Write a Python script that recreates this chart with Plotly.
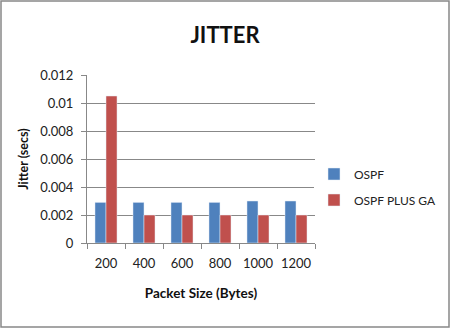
import plotly.graph_objects as go

categories = ["200", "400", "600", "800", "1000", "1200"]
ospf = [0.0029, 0.0029, 0.0029, 0.0029, 0.003, 0.003]
ospf_ga = [0.0105, 0.002, 0.002, 0.002, 0.002, 0.002]
y_ticks = [0, 0.002, 0.004, 0.006, 0.008, 0.01, 0.012]
y_tick_labels = ["0", "0.002", "0.004", "0.006", "0.008", "0.01", "0.012"]

FONT = "Lato, 'Open Sans', sans-serif"
L, R, T, B = 87, 135, 75, 85
W, H = 450, 328
pw, ph = W - L - R, H - T - B

fig = go.Figure()
fig.add_bar(x=categories, y=ospf, name="OSPF", marker_color="#4F81BD", legendgroup="a")
fig.add_bar(x=categories, y=ospf_ga, name="OSPF PLUS GA", marker_color="#C0504D", legendgroup="b")

fig.update_layout(
    width=W, height=H, autosize=False,
    margin=dict(l=L, r=R, t=T, b=B, autoexpand=False),
    paper_bgcolor="white", plot_bgcolor="white",
    barmode="group", bargap=0.42, bargroupgap=0,
    font=dict(family=FONT, color="#222", size=12),
    title=dict(text="<b>JITTER</b>", x=0.5, xanchor="center", y=1 - 35 / H, yanchor="middle",
               font=dict(size=22, color="#111", family=FONT)),
    legend=dict(x=(314 - L) / pw, y=(243 - 187) / ph, xanchor="left", yanchor="middle",
                font=dict(size=12, color="#222"), itemwidth=30, tracegroupgap=7,
                traceorder="grouped"),
    showlegend=True,
)
fig.update_xaxes(
    type="category", showline=True, linecolor="#888", linewidth=1,
    ticks="outside", tickson="boundaries", ticklen=5, tickcolor="#888",
    tickangle=0, automargin=False, ticklabelstandoff=8,
    tickfont=dict(size=13, color="#222"),
    title=dict(text="<b>Packet Size (Bytes)</b>", font=dict(size=13.5, color="#111"), standoff=18),
    showgrid=False,
)
fig.update_yaxes(
    range=[0, 0.012], tickvals=y_ticks, ticktext=y_tick_labels,
    showline=True, linecolor="#888", linewidth=1,
    ticks="outside", ticklen=5, tickcolor="#888", automargin=False, ticklabelstandoff=5,
    showgrid=True, gridcolor="#888", gridwidth=1,
    tickfont=dict(size=13, color="#222"),
    title=dict(text="<b>Jitter (secs)</b>", font=dict(size=12.5, color="#111"), standoff=8),
    zeroline=False,
)
fig.add_shape(type="rect", xref="paper", yref="paper",
              x0=(1 - L) / pw, x1=(449 - L) / pw,
              y0=(243 - 327) / ph, y1=(243 - 1) / ph,
              line=dict(color="#888", width=1.5), fillcolor="rgba(0,0,0,0)", layer="below")

fig.write_html("out.html", config={"displayModeBar": False},
               post_script="document.body.style.margin='0';document.body.style.overflow='hidden';")
